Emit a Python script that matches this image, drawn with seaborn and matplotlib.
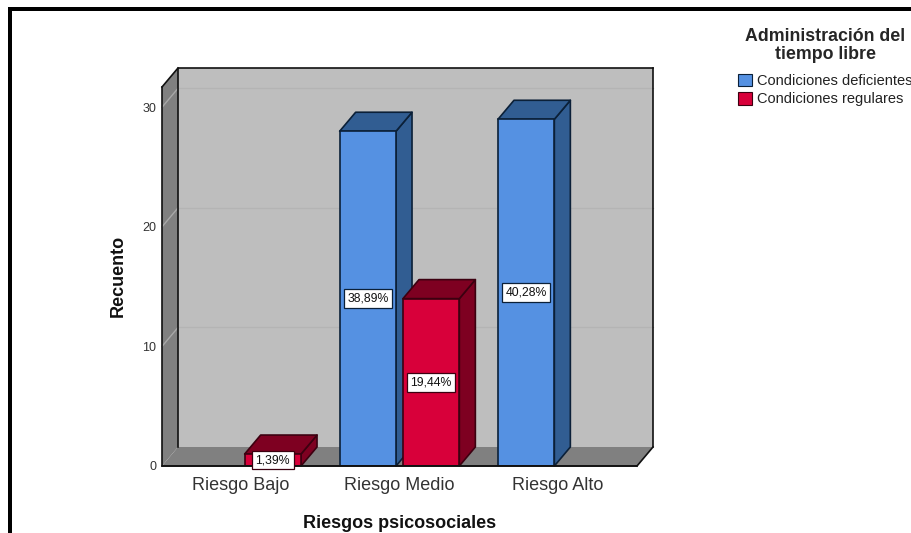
import matplotlib
matplotlib.use("Agg")
import matplotlib.pyplot as plt
from matplotlib.patches import Patch, Rectangle
import pandas as pd
import seaborn as sns

categories = ["Riesgo Bajo", "Riesgo Medio", "Riesgo Alto"]
deficientes = [None, 28, 29]
regulares = [1, 14, None]
pct_deficientes = [None, "38,89%", "40,28%"]
pct_regulares = ["1,39%", "19,44%", None]
series_names = ["Condiciones deficientes", "Condiciones regulares"]
y_ticks = [0, 10, 20, 30]

FRONT = {series_names[0]: "#5591e2", series_names[1]: "#d8003a"}
SHADE = {series_names[0]: "#315d92", series_names[1]: "#7e0021"}
EDGE = {series_names[0]: "#0b2038", series_names[1]: "#3c0010"}

W, H = 911, 533
sns.set_theme(style="white")
plt.rcParams["font.family"] = ["Liberation Sans", "DejaVu Sans"]

fig = plt.figure(figsize=(W / 100, H / 100), dpi=100, facecolor="white")
# front plane of the box: x 162..637 px, baseline at y=466 px, top at y=87 px
ax = fig.add_axes([162 / W, 1 - 466 / H, 475 / W, 379 / H])
ax.patch.set_visible(False)
for s in ax.spines.values():
    s.set_visible(False)

df = pd.DataFrame({
    "riesgo": categories * 2,
    "serie": [series_names[0]] * 3 + [series_names[1]] * 3,
    "recuento": pd.array(deficientes + regulares, dtype="Float64").astype(float),
})
sns.barplot(data=df, x="riesgo", y="recuento", hue="serie", order=categories,
            hue_order=series_names, palette=FRONT, width=0.8, gap=0.11,
            saturation=1, legend=False, errorbar=None, ax=ax, zorder=10)

ppu = 379 / 31.7
ax.set_xlim(-0.5, 2.5)
ax.set_ylim(0, 31.7)
dx = 16 / (475 / 3)     # box depth along x, in category units
dy = 19 / ppu           # box depth along y, in counts
x0, x1 = -0.5, 2.5
y1 = 31.7

# box: floor, left wall, back wall
OUT = dict(clip_on=False, joinstyle="miter")
ax.fill([x0 + dx, x1 + dx, x1 + dx, x0 + dx], [dy, dy, y1 + dy, y1 + dy],
        fc="#bebebe", ec="none", zorder=1, **OUT)
ax.fill([x0, x1, x1 + dx, x0 + dx], [0, 0, dy, dy],
        fc="#808080", ec="none", zorder=1, **OUT)
ax.fill([x0, x0 + dx, x0 + dx, x0], [0, dy, y1 + dy, y1],
        fc="#808080", ec="none", zorder=1, **OUT)
for v in y_ticks[1:]:
    ax.plot([x0 + dx, x1 + dx], [v + dy, v + dy], color="#b4b4b4", lw=1, zorder=2, clip_on=False)
    ax.plot([x0, x0 + dx], [v, v + dy], color="#a8a8a8", lw=1, zorder=2, clip_on=False)
# box outline
line = dict(color="#111111", lw=1.2, zorder=3, clip_on=False, solid_capstyle="projecting")
ax.plot([x1 + dx, x1 + dx], [dy, y1 + dy], **line)
ax.plot([x0 + dx, x0 + dx, x1 + dx], [dy, y1 + dy, y1 + dy], **line)
ax.plot([x0, x0 + dx], [y1, y1 + dy], **line)
ax.plot([x0, x0], [0, y1], **line)
ax.plot([x1, x1 + dx], [0, dy], **line)

# extruded faces and value boxes for each bar, left to right so nearer bars cover sides
bars = []
for name, container, pcts in zip(series_names, ax.containers, [pct_deficientes, pct_regulares]):
    present = [p for p in pcts if p is not None]
    drawn = [r for r in container.patches if r.get_height() == r.get_height()]
    bars += [(r, name, p) for r, p in zip(drawn, present)]

order = 10
for rect, name, pct in sorted(bars, key=lambda t: t[0].get_x()):
    xl, w, h = rect.get_x(), rect.get_width(), rect.get_height()
    xr = xl + w
    ax.fill([xr, xr + dx, xr + dx, xr], [0, dy, h + dy, h], fc=SHADE[name], ec=EDGE[name],
            lw=1.2, zorder=order, clip_on=False, joinstyle="round")
    ax.fill([xl, xl + dx, xr + dx, xr], [h, h + dy, h + dy, h], fc=SHADE[name], ec=EDGE[name],
            lw=1.2, zorder=order, clip_on=False, joinstyle="round")
    rect.set(edgecolor=EDGE[name], linewidth=1.2, zorder=order + 1)
    ax.text(xl + w / 2, h / 2, pct, ha="center", va="center", fontsize=8.8, color="#111111",
            zorder=50, bbox=dict(boxstyle="square,pad=0.28", fc="white", ec=EDGE[name], lw=0.9))
    order += 2

# axis baseline along the front edge, over the feet of the bars
ax.plot([x0, x1], [0, 0], color="#111111", lw=1.4, zorder=40, clip_on=False)

ax.set_yticks(y_ticks)
ax.set_yticklabels([str(v) for v in y_ticks], fontsize=9, color="#333333")
ax.tick_params(axis="y", length=0, pad=4)
ax.tick_params(axis="x", length=0, pad=8, labelsize=13, labelcolor="#333333")
ax.set_xlabel("Riesgos psicosociales", fontsize=13, fontweight="bold", color="#111111", labelpad=15)
ax.set_ylabel("Recuento", fontsize=13, fontweight="bold", color="#111111")
ax.yaxis.set_label_coords((127 - 162) / 475, (466 - 276) / 379)

handles = [Patch(fc=FRONT[n], ec=EDGE[n], lw=0.8, label=n) for n in series_names]
leg = ax.legend(handles=handles, title="Administración del\ntiempo libre", frameon=False,
                loc="upper left", bbox_to_anchor=(738 / W, 1 - 28 / H),
                bbox_transform=fig.transFigure, fontsize=10.5, handlelength=0.96, handleheight=0.96,
                handletextpad=0.33, labelspacing=0.27, borderpad=0, borderaxespad=0,
                title_fontproperties=dict(size=12.8, weight="bold", family="Liberation Sans"),
                alignment="center", labelcolor="#222222")
leg.get_title().set_multialignment("center")
leg.get_title().set_linespacing(1.1)
leg._legend_box.sep = 7.5  # gap between the title block and the entries

# heavy page frame along the top and left edges
fig.add_artist(Rectangle((8 / W, 1 - 11 / H), 1, 4 / H, transform=fig.transFigure, fc="black", ec="none"))
fig.add_artist(Rectangle((8 / W, 0), 4 / W, 1 - 7 / H, transform=fig.transFigure, fc="black", ec="none"))

fig.savefig("out.png", dpi=100, facecolor="white")
